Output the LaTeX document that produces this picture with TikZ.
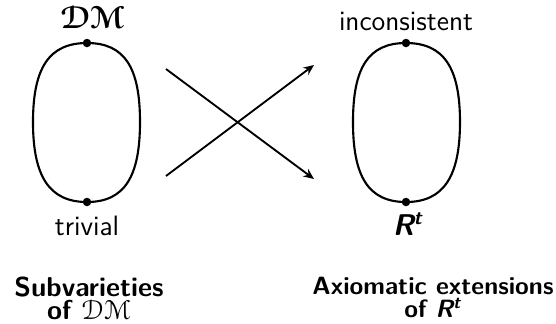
\documentclass[tikz,border=0pt]{standalone}
\usepackage{fontspec}
\usepackage{amsmath,bm}
\usepackage[mathcal]{eucal}
\usetikzlibrary{arrows.meta}
\begin{document}
\begin{tikzpicture}[x=0.4pt,y=-0.4pt,
  curve/.style={line width=0.85pt},
  dotmark/.style={circle,fill=black,inner sep=0pt,minimum size=3.4pt},
  lbl/.style={font=\fontsize{11.2}{13}\selectfont\sffamily,inner sep=0pt,anchor=base},
  ttl/.style={font=\fontsize{10.4}{8.8}\selectfont\sffamily\bfseries,align=center,inner sep=0pt,anchor=north,scale=1.05,transform shape},
  ttlb/.style={font=\fontsize{10}{9.2}\selectfont\sffamily\bfseries,align=center,inner sep=0pt,anchor=north},
  arr/.style={line width=0.75pt,-{Stealth[length=4.2pt,width=3.6pt]}}]
\useasboundingbox (0,0) rectangle (556,323);
% left oval
\draw[curve] (87,43) .. controls (125,43) and (140,68) .. (140,122)
  .. controls (140,176) and (125,202) .. (87,202)
  .. controls (49,202) and (33,176) .. (33,122)
  .. controls (33,68) and (49,43) .. (87,43) -- cycle;
% right oval
\draw[curve] (406,43) .. controls (444,43) and (460,68) .. (460,122)
  .. controls (460,176) and (444,202) .. (406,202)
  .. controls (368,202) and (353,176) .. (353,122)
  .. controls (353,68) and (368,43) .. (406,43) -- cycle;
\node[dotmark] (lt) at (87,43) {};
\node[dotmark] (lb) at (87,202) {};
\node[dotmark] (rt) at (406,43) {};
\node[dotmark] (rb) at (406,202) {};
\node[lbl] (dm) at (93,28) {\fontsize{12.5}{14}\selectfont$\bm{\mathcal{DM}}$};
\node[lbl] (triv) at (87,235) {trivial};
\node[lbl] (inc) at (406,30) {inconsistent};
\node[lbl] (rtl) at (408,235) {\fontsize{12}{14}\selectfont\bfseries\itshape R\textsuperscript{t}};
\coordinate (a1) at (166,69);
\coordinate (a2) at (314,179);
\coordinate (b1) at (166,176);
\coordinate (b2) at (314,65);
\draw[arr] (a1) -- (a2);
\draw[arr] (b1) -- (b2);
\node[ttl] (t1) at (89,276) {Subvarieties\\of $\mathcal{DM}$};
\node[ttlb] (t2) at (433,277) {Axiomatic extensions\\of {\itshape R\textsuperscript{t}}};
\end{tikzpicture}
\end{document}
